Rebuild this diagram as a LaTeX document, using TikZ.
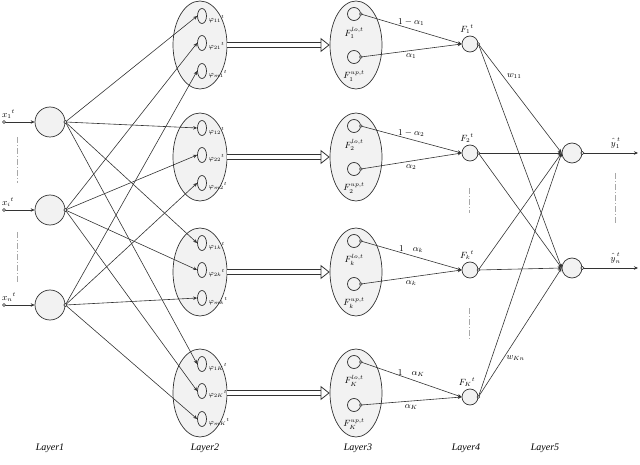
\documentclass[tikz,border=0pt]{standalone}
\usepackage{fontspec}
\setmainfont{Liberation Serif}
\usepackage{amsmath}
\usetikzlibrary{shapes.geometric,arrows.meta}
\definecolor{lineGray}{HTML}{333333}
\definecolor{nodeFill}{HTML}{F2F2F2}
\definecolor{dashGray}{HTML}{A8A8A8}
\tikzset{
  neuron/.style={circle, draw=lineGray, line width=0.7pt, fill=nodeFill, inner sep=0pt},
  group/.style={ellipse, draw=lineGray, line width=0.7pt, fill=nodeFill, inner sep=0pt},
  link/.style={draw=lineGray, line width=0.6pt, -{Stealth[length=4pt,width=3.5pt]}},
  bigarrow/.style={draw=lineGray, line width=0.8pt, double=white, double distance=4pt, -{Triangle[open,length=9pt,width=14pt]}},
  lbl/.style={font=\small, inner sep=1pt},
  gap/.style={dashGray, line width=0.8pt, dash pattern=on 6pt off 2pt on 1pt off 2pt},
  dot/.style={draw=lineGray, fill=nodeFill, line width=0.5pt},
}

\begin{document}
\begin{tikzpicture}[x=1pt,y=-1pt]
  \useasboundingbox (0,0) rectangle (640,465);
  % Layer 1
  \foreach \i/\yy/\s in {1/122/1, 2/210/i, 3/305/n} {
    \node[neuron, minimum size=30pt] (in\i) at (50,\yy) {};
    \coordinate (x\i) at (4,\yy);
    \node[lbl, anchor=south west] (xl\i) at (1,\yy-2) {${x_{\s}}^{t}$};
    \draw[link] (x\i) -- (in\i);
    \draw[dot] (x\i) circle (1.6pt);
  }
  \draw[gap] (17,137) -- (17,183);
  \draw[gap] (17,232) -- (17,282);
  % Layer 2, 3 and 4
  \foreach \g/\cy/\fy/\kk/\ta in {1/45/44/1/{1-\alpha_1}, 2/157/153/2/{1-\alpha_2},
                                  3/272/270/k/{1\quad\alpha_k}, 4/393/397/K/{1\quad\alpha_K}} {
    \node[group, minimum width=54pt, minimum height=88pt] (A\g) at (200,\cy) {};
    \foreach \i/\off/\m in {1/-29/1, 2/-2/2, 3/26/m} {
      \node[group, minimum width=9pt, minimum height=15pt] (p\g\i) at (202,\cy+\off) {};
      \node[lbl, font=\scriptsize, anchor=west] (pl\g\i) at ([xshift=0.5pt,yshift=-3pt]p\g\i.east) {${\varphi_{\m\kk}}^{t}$};
    }
    \node[group, minimum width=52pt, minimum height=88pt] (B\g) at (356,\cy) {};
    \node[neuron, minimum size=13pt] (lo\g) at (354,\cy-31) {};
    \node[neuron, minimum size=13pt] (up\g) at (354,\cy+12) {};
    \node[lbl] (lol\g) at (354,\cy-12) {$F_{\kk}^{lo,t}$};
    \node[lbl] (upl\g) at (354,\cy+31) {$F_{\kk}^{up,t}$};
    \draw[bigarrow] (A\g) -- (B\g);
    \node[neuron, minimum size=16pt] (F\g) at (470,\fy) {};
    \node[lbl] (Fl\g) at (467,\fy-15) {${F_{\kk}}^{t}$};
    \draw[link] (lo\g.east) -- node[lbl, above=2pt] {$\ta$} (F\g.west);
    \draw[link] (up\g.east) -- node[lbl, below=2pt] {$\alpha_{\kk}$} (F\g.west);
    \draw[dot] (lo\g.east) circle (1.3pt);
    \draw[dot] (up\g.east) circle (1.3pt);
  }
  % Layer 1 to Layer 2
  \foreach \g in {1,...,4}
    \foreach \i in {1,2,3}
      \draw[link] (in\i.east) -- (p\g\i.west);
  \foreach \i in {1,2,3}
    \draw[dot] (in\i.east) circle (1.6pt);
  \draw[gap] (469,188) -- (469,213);
  \draw[gap] (469,308) -- (469,340);
  % Layer 5
  \foreach \j/\yy/\s in {1/153/1, 2/268/n} {
    \node[neuron, minimum size=20pt] (y\j) at (572,\yy) {};
    \coordinate (out\j) at (638,\yy);
    \draw[link] (y\j.east) -- node[lbl, above=3pt, pos=0.6] (yl\j) {${\hat{\vphantom{t}y}_{\s}}^{\,t}$} (out\j);
    \draw[dot] (y\j.east) circle (1.6pt);
  }
  \draw[gap] (615,173) -- (615,223);
  % Layer 4 to Layer 5
  \foreach \g in {1,...,4}
    \foreach \j in {1,2}
      \draw[link] (F\g.east) -- (y\j.west);
  \foreach \g in {1,...,4}
    \draw[dot] (F\g.east) circle (1.3pt);
  \path (F1.east) -- node[lbl, pos=0.33, above right] (w11) {$w_{11}$} (y1.west);
  \path (F4.east) -- node[lbl, pos=0.3, right=2pt] (wKn) {$w_{Kn}$} (y2.west);
  % Layer names
  \foreach \n/\xx in {1/50, 2/205, 3/358, 4/466, 5/545}
    \node[font=\itshape] (ln\n) at (\xx,448) {Layer\n};
\end{tikzpicture}
\end{document}
